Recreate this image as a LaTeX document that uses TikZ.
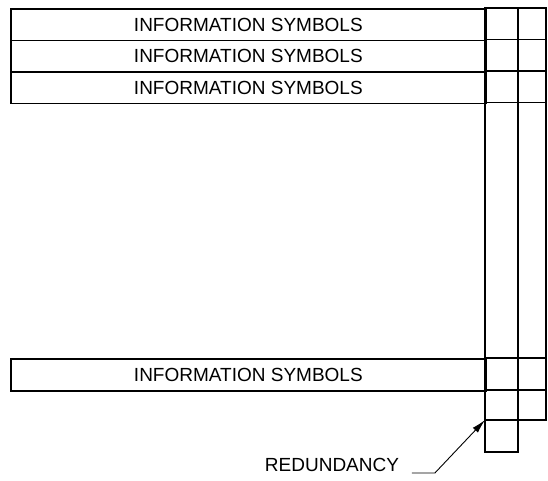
\documentclass[tikz,border=0pt]{standalone}
\usepackage{fontspec}
\setmainfont{Liberation Sans}
\usetikzlibrary{calc,positioning,arrows.meta}
\tikzset{
    inforow/.style={draw, anchor=north west, minimum width=475pt, minimum height=31.5pt,
        inner sep=0pt, font=\fontsize{19}{21}\selectfont},
    grid line/.style={line width=1.7pt},
    leader/.style={line width=0.9pt, -{Latex[length=14pt,width=7pt]}}}

\begin{document}
\begin{tikzpicture}[x=1pt,y=-1pt,line width=1.7pt]
\useasboundingbox (0,0) rectangle (548,480);

% information rows
\foreach \r/\y in {1/8,2/39.5,3/71}
    \node[inforow] (row\r) at (10,\y) {INFORMATION SYMBOLS};
\node[inforow, minimum height=32pt] (row4) at (10,358) {INFORMATION SYMBOLS};

% redundancy columns
\draw[grid line] (485,8) rectangle (546,420);
\draw[grid line] (518,8) -- (518,420);
\foreach \y in {39.5,71,102.5,358,390}
    \draw[grid line] (485,\y) -- (546,\y);
\draw[grid line] (485,420) rectangle (518,452);
\coordinate (tip) at (485,420);

% label
\node[anchor=base, font=\fontsize{19}{21}\selectfont, inner sep=0pt] (redund) at (332,471) {REDUNDANCY};
\draw[leader] ($(redund.base east)+(12,2)$) -- ++(23,0) -- (tip);

\end{tikzpicture}
\end{document}
